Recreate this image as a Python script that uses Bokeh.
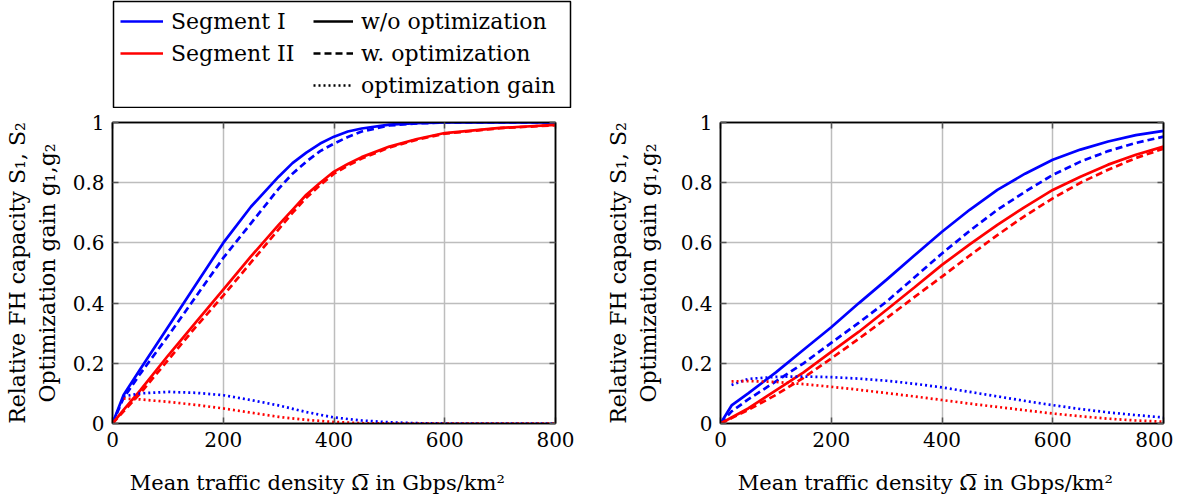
from bokeh.plotting import figure
from bokeh.layouts import row, column
from bokeh.models import (FixedTicker, CustomJSTickFormatter, Legend, LegendItem,
                          LinearAxis, Range1d)
from bokeh.embed import file_html
from bokeh.resources import INLINE

# ---------------- data ----------------
x_left = [0, 20, 50, 100, 150, 200, 250, 300, 325, 350, 375, 400, 425, 450, 500, 550, 600, 700, 800]
s1_wo_left = [0, 0.095, 0.18, 0.32, 0.46, 0.6, 0.72, 0.82, 0.865, 0.90, 0.93, 0.953, 0.97, 0.98, 0.993, 0.998, 1.0, 1.0, 1.0]
s1_w_left = [0, 0.085, 0.165, 0.29, 0.42, 0.55, 0.665, 0.78, 0.83, 0.87, 0.905, 0.93, 0.952, 0.97, 0.99, 0.997, 1.0, 1.0, 1.0]
s2_wo_left = [0, 0.045, 0.11, 0.225, 0.335, 0.445, 0.555, 0.66, 0.71, 0.76, 0.80, 0.837, 0.862, 0.885, 0.92, 0.945, 0.965, 0.982, 0.992]
s2_w_left = [0, 0.04, 0.1, 0.21, 0.32, 0.425, 0.535, 0.645, 0.70, 0.75, 0.792, 0.83, 0.857, 0.88, 0.917, 0.943, 0.963, 0.981, 0.991]
xg_left = [20, 50, 100, 150, 200, 250, 300, 350, 400, 450, 500, 550, 600, 700, 800]
g1_left = [0.09, 0.1, 0.105, 0.102, 0.094, 0.078, 0.06, 0.038, 0.02, 0.01, 0.004, 0.001, 0, 0, 0]
g2_left = [0.083, 0.08, 0.072, 0.062, 0.05, 0.036, 0.022, 0.012, 0.005, 0.001, 0, 0, 0, 0, 0]

x_right = [0, 20, 50, 100, 150, 200, 250, 300, 350, 400, 450, 500, 550, 600, 650, 700, 750, 800]
s1_wo_right = [0, 0.06, 0.1, 0.17, 0.245, 0.32, 0.4, 0.478, 0.558, 0.637, 0.71, 0.776, 0.83, 0.876, 0.91, 0.937, 0.958, 0.972]
s1_w_right = [0, 0.04, 0.08, 0.14, 0.2, 0.268, 0.335, 0.405, 0.485, 0.565, 0.64, 0.71, 0.77, 0.826, 0.87, 0.905, 0.932, 0.953]
s2_wo_right = [0, 0.02, 0.05, 0.11, 0.17, 0.238, 0.305, 0.378, 0.452, 0.527, 0.595, 0.66, 0.72, 0.776, 0.82, 0.86, 0.893, 0.92]
s2_w_right = [0, 0.018, 0.045, 0.095, 0.152, 0.216, 0.282, 0.35, 0.42, 0.488, 0.558, 0.626, 0.69, 0.748, 0.80, 0.843, 0.882, 0.913]
xg_right = [20, 50, 100, 150, 200, 250, 300, 350, 400, 450, 500, 550, 600, 650, 700, 750, 800]
g1_right = [0.128, 0.148, 0.155, 0.156, 0.154, 0.149, 0.142, 0.132, 0.12, 0.105, 0.09, 0.075, 0.061, 0.048, 0.037, 0.028, 0.02]
g2_right = [0.14, 0.141, 0.138, 0.131, 0.122, 0.112, 0.101, 0.09, 0.078, 0.066, 0.055, 0.044, 0.033, 0.024, 0.016, 0.01, 0.006]

x_ticks = [0, 200, 400, 600, 800]
y_ticks = [0, 0.2, 0.4, 0.6, 0.8, 1.0]

x_label = "Mean traffic density \u03a9\u0305 in Gbps/km\u00b2"
y_label = "Relative FH capacity S\u2081, S\u2082\nOptimization gain g\u2081,g\u2082"

legend_colors = ["Segment I", "Segment II"]
legend_styles = ["w/o optimization", "w. optimization", "optimization gain"]

# ---------------- style ----------------
FONT = "DejaVu Serif"
BLUE = "#0000ff"
RED = "#ff0000"
LW = 2.7
DASH = "7 4"
DOT = "2 3"
LEG_H = 108
H = 389
NAN = float("nan")
XLAB_PAD = "\u00a0" * 5   # shifts the centred x label a little to the left, as in the original

fmt = CustomJSTickFormatter(code="return String(Math.round(tick*10)/10);")
blank_fmt = CustomJSTickFormatter(code="return '';")


def style_axis(ax):
    ax.axis_line_color = "black"
    ax.axis_line_width = 1.5
    ax.major_tick_in = 6
    ax.major_tick_out = 0
    ax.major_tick_line_color = "#555555"
    ax.major_tick_line_width = 1.5
    ax.minor_tick_line_color = None
    ax.major_label_text_font = FONT
    ax.major_label_text_font_size = "20px"
    ax.major_label_text_color = "black"
    ax.axis_label_text_font = FONT
    ax.axis_label_text_font_size = "21px"
    ax.axis_label_text_font_style = "normal"
    ax.axis_label_text_color = "black"


def make_fig(width, border_left, border_right, ylab_standoff):
    p = figure(width=width, height=H, output_backend="svg", toolbar_location=None,
               x_range=Range1d(0, 800), y_range=Range1d(0, 1),
               min_border_left=border_left, min_border_right=border_right,
               min_border_top=14, min_border_bottom=10)
    p.outline_line_color = "black"
    p.outline_line_width = 1.5
    p.background_fill_color = "white"
    p.border_fill_color = "white"
    p.xaxis.ticker = FixedTicker(ticks=x_ticks)
    p.yaxis.ticker = FixedTicker(ticks=y_ticks)
    p.yaxis.formatter = fmt
    p.xaxis.axis_label = x_label + XLAB_PAD
    p.yaxis.axis_label = y_label
    for ax in p.xaxis + p.yaxis:
        style_axis(ax)
    p.yaxis.axis_label_text_font_size = "22px"
    p.xaxis.major_label_standoff = 8
    p.yaxis.major_label_standoff = 8
    p.xaxis.axis_label_standoff = 21
    p.yaxis.axis_label_standoff = ylab_standoff
    # mirrored ticks on top and right
    ax_r = LinearAxis(ticker=FixedTicker(ticks=y_ticks), formatter=blank_fmt)
    ax_t = LinearAxis(ticker=FixedTicker(ticks=x_ticks), formatter=blank_fmt)
    for ax in (ax_r, ax_t):
        style_axis(ax)
        ax.major_label_standoff = 0
    p.add_layout(ax_r, "right")
    p.add_layout(ax_t, "above")
    p.xgrid.ticker = FixedTicker(ticks=x_ticks)
    p.ygrid.ticker = FixedTicker(ticks=y_ticks)
    p.grid.grid_line_color = "#bdbdbd"
    p.grid.grid_line_width = 1.5
    return p


def draw(p, x, s1wo, s1w, s2wo, s2w, xg, g1, g2):
    p.line(x, s1wo, line_color=BLUE, line_width=LW)
    p.line(x, s1w, line_color=BLUE, line_width=LW, line_dash=DASH)
    p.line(x, s2wo, line_color=RED, line_width=LW)
    p.line(x, s2w, line_color=RED, line_width=LW, line_dash=DASH)
    p.line(xg, g1, line_color=BLUE, line_width=LW, line_dash=DOT)
    p.line(xg, g2, line_color=RED, line_width=LW, line_dash=DOT)


p1 = make_fig(585, 112, 30, 10)
draw(p1, x_left, s1_wo_left, s1_w_left, s2_wo_left, s2_w_left, xg_left, g1_left, g2_left)

p2 = make_fig(588, 135, 10, 17)
draw(p2, x_right, s1_wo_right, s1_w_right, s2_wo_right, s2_w_right, xg_right, g1_right, g2_right)

# ---------------- legend box (its own frame is the box) ----------------
pl = figure(width=585, height=LEG_H, output_backend="svg", toolbar_location=None,
            x_range=Range1d(0, 1), y_range=Range1d(0, 1),
            x_axis_location=None, y_axis_location=None,
            min_border_left=113, min_border_right=15, min_border_top=1, min_border_bottom=1)
pl.grid.visible = False
pl.outline_line_color = "black"
pl.outline_line_width = 1.5
pl.background_fill_color = "white"
pl.border_fill_color = "white"

r_seg1 = pl.line([NAN], [NAN], line_color=BLUE, line_width=LW)
r_seg2 = pl.line([NAN], [NAN], line_color=RED, line_width=LW)
r_wo = pl.line([NAN], [NAN], line_color="black", line_width=LW)
r_w = pl.line([NAN], [NAN], line_color="black", line_width=LW, line_dash=DASH)
r_g = pl.line([NAN], [NAN], line_color="black", line_width=LW, line_dash=DOT)

common = dict(label_text_font=FONT, label_text_font_size="22px", label_text_color="black",
              glyph_height=26, label_standoff=8, spacing=6, padding=8, margin=0,
              border_line_color=None, background_fill_alpha=0.0)
leg_a = Legend(items=[LegendItem(label=legend_colors[0], renderers=[r_seg1]),
                      LegendItem(label=legend_colors[1], renderers=[r_seg2])],
               location=(7, 41), glyph_width=43, **common)
leg_b = Legend(items=[LegendItem(label=legend_styles[0], renderers=[r_wo]),
                      LegendItem(label=legend_styles[1], renderers=[r_w]),
                      LegendItem(label=legend_styles[2], renderers=[r_g])],
               location=(200, 9), glyph_width=40, **common)
pl.add_layout(leg_a, "center")
pl.add_layout(leg_b, "center")

layout = column(pl, row(p1, p2))
open("out.html", "w").write(file_html(layout, INLINE))
